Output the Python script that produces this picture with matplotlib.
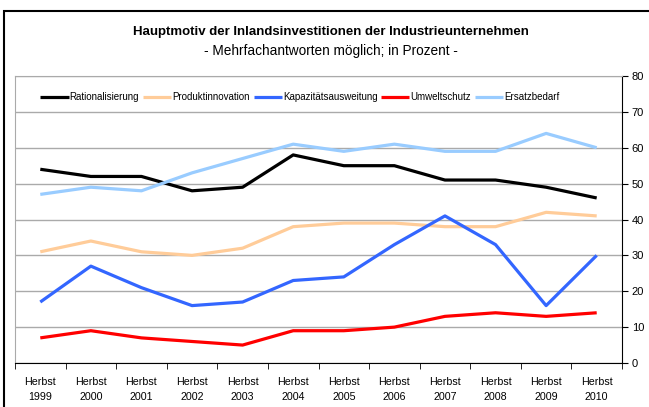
import matplotlib.pyplot as plt
from matplotlib.patches import Rectangle
import numpy as np

plt.rcParams['font.family'] = ['Liberation Sans', 'DejaVu Sans']

years = ["1999", "2000", "2001", "2002", "2003", "2004",
         "2005", "2006", "2007", "2008", "2009", "2010"]
labels = ["Herbst\n" + y for y in years]

rationalisierung = [54, 52, 52, 48, 49, 58, 55, 55, 51, 51, 49, 46]
produktinnovation = [31, 34, 31, 30, 32, 38, 39, 39, 38, 38, 42, 41]
kapazitaet = [17, 27, 21, 16, 17, 23, 24, 33, 41, 33, 16, 30]
umweltschutz = [7, 9, 7, 6, 5, 9, 9, 10, 13, 14, 13, 14]
ersatzbedarf = [47, 49, 48, 53, 57, 61, 59, 61, 59, 59, 64, 60]

series = [
    ("Rationalisierung", rationalisierung, "#000000"),
    ("Produktinnovation", produktinnovation, "#FFCC99"),
    ("Kapazitätsausweitung", kapazitaet, "#3366FF"),
    ("Umweltschutz", umweltschutz, "#FF0000"),
    ("Ersatzbedarf", ersatzbedarf, "#99CCFF"),
]

fig = plt.figure(figsize=(6.49, 4.07), dpi=100)
ax = fig.add_axes([15/649, 44/407, 607/649, 287/407])

# outer frame
fig.patches.append(Rectangle((4/649, -0.05), 1.0, (396/407) + 0.05,
                             transform=fig.transFigure, fill=False,
                             edgecolor="black", lw=1.5))

x = np.arange(len(years))
for name, vals, col in series:
    ax.plot(x, vals, color=col, lw=2.3, label=name, solid_capstyle="butt")

ax.set_xlim(-0.5, len(years) - 0.5)
ax.set_ylim(0, 80)
ax.yaxis.tick_right()
ax.set_yticks(range(0, 81, 10))
ax.set_xticks(x)
ax.set_xticklabels(labels, fontsize=7.7, linespacing=1.7)
ax.set_xticks(np.arange(-0.5, len(years)), minor=True)
ax.tick_params(axis="x", which="major", length=0, pad=10)
ax.tick_params(axis="x", which="minor", length=4, direction="out")
ax.tick_params(axis="y", length=4, direction="out", labelsize=8, pad=3)

ax.grid(axis="y", color="#AAAAAA", lw=1)
ax.set_axisbelow(True)
ax.spines["top"].set_color("#AAAAAA")
ax.spines["left"].set_color("#AAAAAA")
ax.spines["right"].set_color("black")
ax.spines["bottom"].set_color("black")

leg = ax.legend(loc="center left", bbox_to_anchor=(0.042, 0.927), ncol=5,
                frameon=False, fontsize=7, handlelength=2.9, handletextpad=0.1,
                columnspacing=0.4, borderpad=0, borderaxespad=0)
for ln in leg.get_lines():
    ln.set_linewidth(2.3)

fig.text(331/649, 1 - 32/407, "Hauptmotiv der Inlandsinvestitionen der Industrieunternehmen",
         ha="center", va="center", fontsize=9.5, fontweight="bold")
fig.text(331/649, 1 - 51/407, "- Mehrfachantworten möglich; in Prozent -",
         ha="center", va="center", fontsize=9.8)

fig.savefig("out.png", dpi=100)
